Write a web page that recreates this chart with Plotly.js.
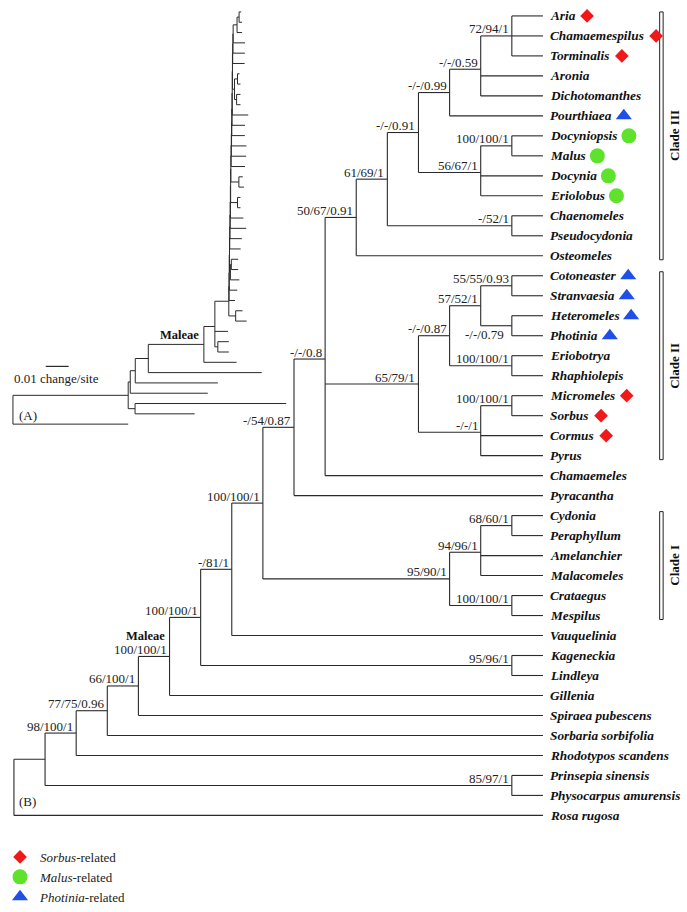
<!DOCTYPE html>
<html><head><meta charset="utf-8">
<script src="https://cdn.plot.ly/plotly-3.0.1.min.js"></script>
<style>body{margin:0;background:#fff}#chart{width:687px;height:912px}</style>
</head><body><div id="chart"></div>
<script>
// ---------------- DATA ----------------
// Tree (B): cladogram, internal labels = MP/ML bootstrap / Bayesian PP
const treeB =
  "(((((((((((((((((Aria,Chamaemespilus,Torminalis)72/94/1,Aronia,Dichotomanthes)-/-/0.59,Pourthiaea)-/-/0.99," +
  "((Docyniopsis,Malus)100/100/1,Docynia,Eriolobus)56/67/1)-/-/0.91,(Chaenomeles,Pseudocydonia)-/52/1)61/69/1,Osteomeles)50/67/0.91," +
  "((((Cotoneaster,Stranvaesia)55/55/0.93,(Heteromeles,Photinia)-/-/0.79)57/52/1,(Eriobotrya,Rhaphiolepis)100/100/1)-/-/0.87," +
  "((Micromeles,Sorbus)100/100/1,Cormus,Pyrus)-/-/1)65/79/1,Chamaemeles)-/-/0.8,Pyracantha)-/54/0.87," +
  "(((Cydonia,Peraphyllum)68/60/1,Amelanchier,Malacomeles)94/96/1,(Crataegus,Mespilus)100/100/1)95/90/1)100/100/1," +
  "Vauquelinia)-/81/1,(Kageneckia,Lindleya)95/96/1)100/100/1,Gillenia)100/100/1,Spiraea_pubescens)66/100/1," +
  "Sorbaria_sorbifolia)77/75/0.96,Rhodotypos_scandens)98/100/1,(Prinsepia_sinensis,Physocarpus_amurensis)85/97/1),Rosa_rugosa);";

// Tree (A): phylogram, branch lengths in changes/site
const insetCrown =
  "(((((((((((((((((((((" +
  "(:0.0009,:0.0013)" +
  ":0.0009,:0.0022)" +
  ":0.0017,:0.0052)" +
  ":0.0001,:0.0052)" +
  ":0.0001,:0.0052)" +
  ":0.0001,((:0.0009,:0.0013):0.0013,(:0.0017,:0.0017):0.0009):0.0009)" +
  ":0.0001,:0.0070)" +
  ":0.0001,:0.0057)" +
  ":0.0001,:0.0057)" +
  ":0.0001,:0.0065)" +
  ":0.0001,:0.0065)" +
  ":0.0001,:0.0061)" +
  ":0.0001,(:0.0017,:0.0022):0.0035)" +
  ":0.0001,(:0.0013,:0.0013):0.0030)" +
  ":0.0001,:0.0057)" +
  ":0.0001,:0.0070)" +
  ":0.0001,:0.0052)" +
  ":0.0001,:0.0048)" +
  ":0.0001,((:0.0030,:0.0030):0.0004,:0.0039):0.0004)" +
  ":0.0001,:0.0035)" +
  ":0.0001,:0.0026)" +
  ":0.0001,(:0.0030,:0.0048):0.0030)";
const treeA = "(((((((" + insetCrown +
  ":0.0061,:0.0057,(:0.0048,:0.0048):0.0013):0.0048,:0.0143)Maleae:0.0243,:0.0496):0.0057,:0.0361):0.0022,:0.0339):0.0009," +
  "(:0.0661,:0.0261):0.0030):0.0504,:0.0504);";
const scaleBarValue = 0.01;
const scaleBarLabel = "0.01 change/site";

const sorbusRelated   = ["Aria", "Chamaemespilus", "Torminalis", "Micromeles", "Sorbus", "Cormus"];
const malusRelated    = ["Docyniopsis", "Malus", "Docynia", "Eriolobus"];
const photiniaRelated = ["Pourthiaea", "Cotoneaster", "Stranvaesia", "Heteromeles", "Photinia"];
const groupNames  = ["Sorbus", "Malus", "Photinia"];

const cladeNames = ["Clade III", "Clade II", "Clade I"];
const cladeFirst = ["Aria", "Cotoneaster", "Cydonia"];
const cladeLast  = ["Osteomeles", "Pyrus", "Mespilus"];
const maleaeSpan = ["Aria", "Gillenia"];

// ---------------- TREE HELPERS ----------------
function parseNewick(s) {
  let i = 0;
  function node() {
    const n = {children: [], name: "", len: 0};
    if (s[i] === "(") {
      i++; n.children.push(node());
      while (s[i] === ",") { i++; n.children.push(node()); }
      i++;
    }
    let name = "";
    while (i < s.length && ",():;".indexOf(s[i]) < 0) name += s[i++];
    n.name = name.trim().replace(/_/g, " ");
    if (s[i] === ":") {
      i++; let num = "";
      while (i < s.length && ",();".indexOf(s[i]) < 0) num += s[i++];
      n.len = parseFloat(num);
    }
    return n;
  }
  return node();
}
function layoutTree(root, cladogram) {
  const all = [], leaves = [];
  function walk(n, parent) {
    n.parent = parent;
    n.dist = parent ? parent.dist + n.len : 0;
    all.push(n);
    if (!n.children.length) { n.y = leaves.length; leaves.push(n); n.h = 0; }
    n.children.forEach(c => walk(c, n));
    if (n.children.length) {
      n.y = n.children.reduce((a, c) => a + c.y, 0) / n.children.length;
      n.h = 1 + Math.max(...n.children.map(c => c.h));
    }
  }
  walk(root, null);
  all.forEach(n => { n.x = cladogram ? root.h - n.h : n.dist; });
  return {all, leaves};
}
function segments(all) {
  const xs = [], ys = [];
  all.forEach(n => {
    if (!n.children.length) return;
    const cy = n.children.map(c => c.y);
    xs.push(n.x, n.x, null); ys.push(Math.min(...cy), Math.max(...cy), null);
    n.children.forEach(c => { xs.push(n.x, c.x, null); ys.push(c.y, c.y, null); });
  });
  return {xs, ys};
}
function mrca(leaves, a, b) {
  const la = leaves.find(l => l.name === a), lb = leaves.find(l => l.name === b);
  const anc = new Set(); for (let n = la; n; n = n.parent) anc.add(n);
  for (let n = lb; n; n = n.parent) if (anc.has(n)) return n;
}

// ---------------- LAYOUT ----------------
const W = 687, H = 912;
const SERIF = "Liberation Serif";
const bX0 = 10, bStep = 31.3, bY0 = 16, bRow = 20.075;    // tree B pixel mapping
const aX0 = 9, aScale = 2300, aY0 = 12, aRow = 10.35;      // tree A pixel mapping
const lineColor = "#2a2a2a";

const B = layoutTree(parseNewick(treeB), true);
const A = layoutTree(parseNewick(treeA), false);
const segB = segments(B.all), segA = segments(A.all);

const leafSize = 13.3;
const leafFont = {family: SERIF, size: leafSize, weight: "bold", style: "italic", color: "#111"};
const supFont = {family: SERIF, size: 13, color: "#222"};
const ctx = document.createElement("canvas").getContext("2d");
ctx.font = "italic bold " + leafSize + "px 'Liberation Serif'";
const labelGap = 7, markGap = 13;

const annotations = [];
B.leaves.forEach(l => annotations.push({
  x: l.x, y: l.y, xref: "x", yref: "y", text: l.name, showarrow: false,
  xanchor: "left", yanchor: "middle", xshift: labelGap - 2, font: leafFont
}));
B.all.forEach(n => {
  if (!n.children.length || !n.name) return;
  const below = n.name === "-/-/0.79";
  annotations.push({
    x: n.x, y: n.y, xref: "x", yref: "y", text: n.name, showarrow: false,
    xanchor: "right", yanchor: "middle", xshift: below ? -6 : -1, yshift: below ? -9 : 7, font: supFont
  });
});
const maleaeB = mrca(B.leaves, maleaeSpan[0], maleaeSpan[1]);
annotations.push({x: maleaeB.x, y: maleaeB.y, xref: "x", yref: "y", text: "Maleae", showarrow: false,
  xanchor: "right", yanchor: "middle", xshift: -3, yshift: 20,
  font: {family: SERIF, size: 12.5, weight: "bold", color: "#111"}});
const maleaeA = A.all.find(n => n.name === "Maleae");
annotations.push({x: maleaeA.x, y: maleaeA.y, xref: "x2", yref: "y2", text: "Maleae", showarrow: false,
  xanchor: "right", yanchor: "middle", xshift: -3, yshift: 9,
  font: {family: SERIF, size: 12.5, weight: "bold", color: "#111"}});

// clade bars + labels
const shapes = [];
cladeNames.forEach((c, k) => {
  const f = B.leaves.find(l => l.name === cladeFirst[k]), t = B.leaves.find(l => l.name === cladeLast[k]);
  shapes.push({type: "rect", layer: "below", xref: "paper", yref: "y", x0: 659.5 / W, x1: 663 / W,
    y0: f.y - 0.2, y1: t.y + 0.2, line: {color: "#222", width: 1}, fillcolor: "#fff"});
  annotations.push({xref: "paper", yref: "y", x: 675 / W, y: (f.y + t.y) / 2, text: c, textangle: -90,
    showarrow: false, xanchor: "center", yanchor: "middle",
    font: {family: SERIF, size: 13, weight: "bold", color: "#111"}});
});
// scale bar
const sbX0 = (42 - aX0) / aScale;
shapes.push({type: "line", xref: "x2", yref: "paper", x0: sbX0, x1: sbX0 + scaleBarValue,
  y0: 1 - 368 / H, y1: 1 - 368 / H, line: {color: lineColor, width: 1.2}});
annotations.push({xref: "paper", yref: "paper", x: 8 / W, y: 1 - 380 / H, text: scaleBarLabel, showarrow: false,
  xanchor: "left", yanchor: "middle", font: supFont});
annotations.push({xref: "paper", yref: "paper", x: 13 / W, y: 1 - 417 / H, text: "(A)", showarrow: false,
  xanchor: "left", yanchor: "middle", font: supFont});
annotations.push({xref: "paper", yref: "paper", x: 13 / W, y: 1 - 805 / H, text: "(B)", showarrow: false,
  xanchor: "left", yanchor: "middle", font: supFont});

// marker traces
function markerTrace(list, name, symbol, color, size) {
  const xs = [], ys = [];
  list.forEach(t => {
    const l = B.leaves.find(q => q.name === t);
    const w = ctx.measureText(t).width;
    xs.push(l.x + (labelGap + w + markGap) / bStep); ys.push(l.y);
  });
  return {type: "scatter", mode: "markers", x: xs, y: ys, xaxis: "x", yaxis: "y", name: name,
    marker: {symbol: symbol, color: color, size: size, line: {width: 0}}, hoverinfo: "skip"};
}

const traces = [
  {type: "scatter", mode: "lines", x: segA.xs, y: segA.ys, xaxis: "x2", yaxis: "y2",
   line: {color: lineColor, width: 1}, showlegend: false, hoverinfo: "skip"},
  {type: "scatter", mode: "lines", x: segB.xs, y: segB.ys, xaxis: "x", yaxis: "y",
   line: {color: lineColor, width: 1.1}, showlegend: false, hoverinfo: "skip"},
  markerTrace(sorbusRelated, "<i>" + groupNames[0] + "</i>-related", "diamond", "#f01818", 10.5),
  markerTrace(malusRelated, "<i>" + groupNames[1] + "</i>-related", "circle", "#5fe22c", 15),
  markerTrace(photiniaRelated, "<i>" + groupNames[2] + "</i>-related", "triangle-up", "#1f4fe8", 14)
];

const hid = {visible: false, fixedrange: true, showgrid: false, zeroline: false};
const layout = {
  width: W, height: H, margin: {l: 0, r: 0, t: 0, b: 0},
  paper_bgcolor: "#fff", plot_bgcolor: "rgba(0,0,0,0)",
  xaxis: Object.assign({range: [-bX0 / bStep, (W - bX0) / bStep], domain: [0, 1]}, hid),
  yaxis: Object.assign({range: [(H - bY0) / bRow, -bY0 / bRow], domain: [0, 1]}, hid),
  xaxis2: Object.assign({range: [-aX0 / aScale, (W - aX0) / aScale], overlaying: "x", anchor: "y2"}, hid),
  yaxis2: Object.assign({range: [(H - aY0) / aRow, -aY0 / aRow], overlaying: "y", anchor: "x2"}, hid),
  showlegend: true,
  legend: {x: -4 / W, xanchor: "left", y: 1 - 846 / H, yanchor: "top", bgcolor: "rgba(0,0,0,0)",
    font: {family: SERIF, size: 13, color: "#222"}, tracegroupgap: 0},
  annotations: annotations, shapes: shapes
};
Plotly.newPlot("chart", traces, layout, {staticPlot: true, displayModeBar: false});
</script>
</body></html>
